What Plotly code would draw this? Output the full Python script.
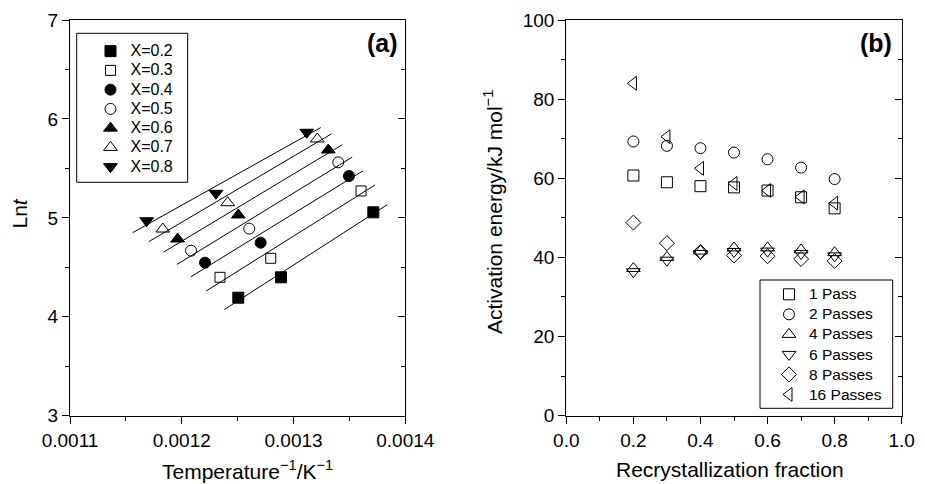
import numpy as np
import plotly.graph_objects as go

# ---------------- Panel (a) data ----------------
series_a_names = ["X=0.2", "X=0.3", "X=0.4", "X=0.5", "X=0.6", "X=0.7", "X=0.8"]
invT_x02 = [0.0012506, 0.0012888, 0.0013714]
lnt_x02 = [4.193, 4.399, 5.056]
invT_x03 = [0.0012342, 0.0012796, 0.0013604]
lnt_x03 = [4.399, 4.591, 5.272]
invT_x04 = [0.0012208, 0.0012706, 0.0013496]
lnt_x04 = [4.547, 4.749, 5.423]
invT_x05 = [0.0012083, 0.0012604, 0.0013400]
lnt_x05 = [4.668, 4.891, 5.561]
invT_x06 = [0.0011963, 0.0012506, 0.0013311]
lnt_x06 = [4.786, 5.029, 5.686]
invT_x07 = [0.0011830, 0.0012411, 0.0013213]
lnt_x07 = [4.887, 5.153, 5.797]
invT_x08 = [0.0011686, 0.0012306, 0.0013118]
lnt_x08 = [4.971, 5.248, 5.865]
x_ticks_a = [0.0011, 0.0012, 0.0013, 0.0014]
y_ticks_a = [3, 4, 5, 6, 7]

# ---------------- Panel (b) data ----------------
frac = [0.2, 0.3, 0.4, 0.5, 0.6, 0.7, 0.8]
series_b_names = ["1 Pass", "2 Passes", "4 Passes", "6 Passes", "8 Passes", "16 Passes"]
ea_p1 = [60.7, 59.0, 58.0, 57.7, 56.9, 55.2, 52.4]
ea_p2 = [69.3, 68.2, 67.6, 66.5, 64.8, 62.7, 59.8]
ea_p4 = [37.2, 40.0, 41.6, 42.4, 42.4, 41.9, 41.2]
ea_p6 = [36.4, 39.3, 41.0, 41.5, 41.6, 41.0, 40.4]
ea_p8 = [48.8, 43.6, 41.4, 40.5, 40.3, 39.6, 39.1]
ea_p16 = [84.0, 70.5, 62.5, 58.7, 56.9, 55.3, 53.7]
x_ticks_b = [0.0, 0.2, 0.4, 0.6, 0.8, 1.0]
y_ticks_b = [0, 20, 40, 60, 80, 100]

# ---------------- styling ----------------
W, H = 925, 484
FONT = "Liberation Sans, Arial, sans-serif"
BLACK = "black"

def px_x(p):
    return p / W

def px_y(p):
    return 1 - p / H

dom_y = [px_y(415.7), px_y(20)]
dom_xa = [px_x(70), px_x(405.3)]
dom_xb = [px_x(566.3), px_x(901.7)]

fig = go.Figure()

a_data = [(invT_x02, lnt_x02), (invT_x03, lnt_x03), (invT_x04, lnt_x04),
          (invT_x05, lnt_x05), (invT_x06, lnt_x06), (invT_x07, lnt_x07),
          (invT_x08, lnt_x08)]
a_symbols = ["square", "square-open", "circle", "circle-open",
             "triangle-up", "triangle-up-open", "triangle-down"]
a_sizes = [11, 10, 11, 11, 12, 12, 12]
ext = 0.0000125

for (xs, ys), name, sym, sz in zip(a_data, series_a_names, a_symbols, a_sizes):
    xs_arr = np.array(xs)
    ys_arr = np.array(ys)
    k, b0 = np.polyfit(xs_arr, ys_arr, 1)
    lx = np.array([xs_arr.min() - ext, xs_arr.max() + ext])
    fig.add_trace(go.Scatter(x=lx, y=k * lx + b0, mode="lines",
                             line=dict(color=BLACK, width=1),
                             showlegend=False, hoverinfo="skip",
                             xaxis="x", yaxis="y"))
for (xs, ys), name, sym, sz in zip(a_data, series_a_names, a_symbols, a_sizes):
    fig.add_trace(go.Scatter(x=xs, y=ys, mode="markers",
                             name=f'<span style="font-size:16px">{name}</span>',
                             marker=dict(symbol=sym, size=sz, color=BLACK,
                                         line=dict(color=BLACK, width=1)),
                             xaxis="x", yaxis="y", legend="legend"))

b_data = [ea_p1, ea_p2, ea_p4, ea_p6, ea_p8, ea_p16]
b_symbols = ["square-open", "circle-open", "triangle-up-open",
             "triangle-down-open", "diamond-open", "triangle-left-open"]
b_sizes = [11, 11, 12, 12, 11.5, 12]
for ys, name, sym, sz in zip(b_data, series_b_names, b_symbols, b_sizes):
    fig.add_trace(go.Scatter(x=frac, y=ys, mode="markers",
                             name=f'<span style="font-size:15.5px">{name}</span>',
                             marker=dict(symbol=sym, size=sz, color=BLACK,
                                         line=dict(color=BLACK, width=1)),
                             xaxis="x2", yaxis="y2", legend="legend2"))

# invisible traces to register the inward right-side tick axes
fig.add_trace(go.Scatter(x=[None], y=[None], xaxis="x", yaxis="y3",
                         showlegend=False, hoverinfo="skip"))
fig.add_trace(go.Scatter(x=[None], y=[None], xaxis="x2", yaxis="y4",
                         showlegend=False, hoverinfo="skip"))

tickfont = dict(family=FONT, size=19, color=BLACK)
common = dict(showline=True, linecolor=BLACK, linewidth=1.3, mirror=True,
              ticks="outside", ticklen=7, tickwidth=1.2, tickcolor=BLACK,
              showgrid=False, zeroline=False, tickfont=tickfont,
              automargin=False)

fig.update_layout(
    width=W, height=H,
    margin=dict(l=0, r=0, t=0, b=0),
    paper_bgcolor="white", plot_bgcolor="white",
    font=dict(family=FONT, color=BLACK),
    xaxis=dict(domain=dom_xa, range=[0.0011, 0.0014], anchor="y",
               tickvals=x_ticks_a, ticktext=[f"{v:.4f}" for v in x_ticks_a],
               minor=dict(ticks="outside", ticklen=4, tickwidth=1.2,
                          tickcolor=BLACK, dtick=0.00005, tick0=0.0011),
               **common),
    yaxis=dict(domain=dom_y, range=[3, 7], anchor="x",
               tickvals=y_ticks_a, ticktext=[str(v) for v in y_ticks_a],
               minor=dict(ticks="outside", ticklen=4, tickwidth=1.2,
                          tickcolor=BLACK, dtick=0.5, tick0=3),
               **common),
    yaxis3=dict(range=[3, 7], overlaying="y", side="right", anchor="x",
                ticks="inside", ticklen=7, tickwidth=1.2, tickcolor=BLACK,
                showticklabels=False, showgrid=False, zeroline=False,
                showline=False, tickvals=y_ticks_a,
                minor=dict(ticks="inside", ticklen=4, tickwidth=1.2,
                           tickcolor=BLACK, dtick=0.5, tick0=3)),
    xaxis2=dict(domain=dom_xb, range=[0, 1], anchor="y2",
                tickvals=x_ticks_b, ticktext=[f"{v:.1f}" for v in x_ticks_b],
                minor=dict(ticks="outside", ticklen=4, tickwidth=1.2,
                           tickcolor=BLACK, dtick=0.1, tick0=0),
                **common),
    yaxis2=dict(domain=dom_y, range=[0, 100], anchor="x2",
                tickvals=y_ticks_b, ticktext=[str(v) for v in y_ticks_b],
                minor=dict(ticks="outside", ticklen=4, tickwidth=1.2,
                           tickcolor=BLACK, dtick=10, tick0=0),
                **common),
    yaxis4=dict(range=[0, 100], overlaying="y2", side="right", anchor="x2",
                ticks="inside", ticklen=7, tickwidth=1.2, tickcolor=BLACK,
                showticklabels=False, showgrid=False, zeroline=False,
                showline=False, tickvals=y_ticks_b,
                minor=dict(ticks="inside", ticklen=4, tickwidth=1.2,
                           tickcolor=BLACK, dtick=10, tick0=0)),
    legend=dict(x=px_x(90.5), y=px_y(36.5), xanchor="left", yanchor="top",
                bgcolor="rgba(0,0,0,0)", borderwidth=0,
                font=dict(family=FONT, size=12.5, color=BLACK),
                itemwidth=30, tracegroupgap=0),
    legend2=dict(x=px_x(769), y=px_y(279.3), xanchor="left", yanchor="top",
                 bgcolor="rgba(0,0,0,0)", borderwidth=0,
                 font=dict(family=FONT, size=13.1, color=BLACK),
                 itemwidth=30, tracegroupgap=0),
    showlegend=True,
)

# legend frames
fig.add_shape(type="rect", xref="paper", yref="paper",
              x0=px_x(76.7), x1=px_x(187.7), y0=px_y(182.3), y1=px_y(33.3),
              line=dict(color=BLACK, width=1))
fig.add_shape(type="rect", xref="paper", yref="paper",
              x0=px_x(760), x1=px_x(892.7), y0=px_y(408.3), y1=px_y(280),
              line=dict(color=BLACK, width=1))

title_font = dict(family=FONT, size=21, color=BLACK)
fig.add_annotation(text="Temperature<sup>\u22121</sup>/K<sup>\u22121</sup>",
                   xref="paper", yref="paper", x=px_x(248), y=px_y(470),
                   xanchor="center", yanchor="middle", showarrow=False,
                   font=title_font)
fig.add_annotation(text="Recrystallization fraction",
                   xref="paper", yref="paper", x=px_x(730), y=px_y(469),
                   xanchor="center", yanchor="middle", showarrow=False,
                   font=title_font)
fig.add_annotation(text="Ln<i>t</i>", textangle=-90,
                   xref="paper", yref="paper", x=px_x(18.5), y=px_y(214),
                   xanchor="center", yanchor="middle", showarrow=False,
                   font=title_font)
fig.add_annotation(text="Activation energy/kJ mol<sup>\u22121</sup>", textangle=-90,
                   xref="paper", yref="paper", x=px_x(493), y=px_y(212),
                   xanchor="center", yanchor="middle", showarrow=False,
                   font=title_font)
fig.add_annotation(text="<b>(a)</b>", xref="paper", yref="paper",
                   x=px_x(382.3), y=px_y(43.3), xanchor="center", yanchor="middle",
                   showarrow=False, font=dict(family=FONT, size=25, color=BLACK))
fig.add_annotation(text="<b>(b)</b>", xref="paper", yref="paper",
                   x=px_x(876), y=px_y(43.3), xanchor="center", yanchor="middle",
                   showarrow=False, font=dict(family=FONT, size=25, color=BLACK))

fig.write_html("out.html")
